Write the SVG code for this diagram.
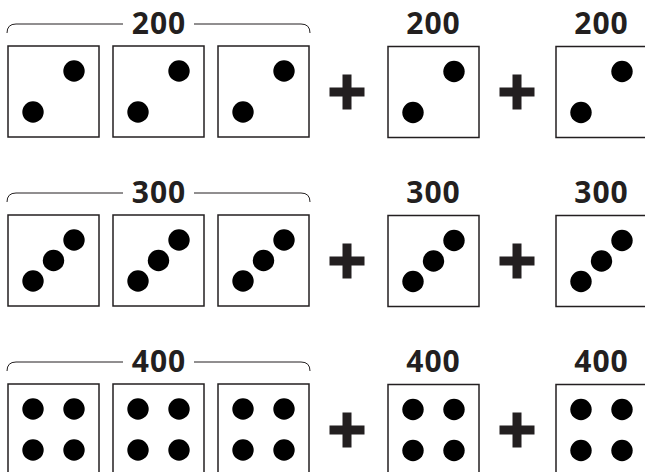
<svg xmlns="http://www.w3.org/2000/svg" xmlns:xlink="http://www.w3.org/1999/xlink" width="645" height="472" viewBox="0 0 645 472">
<style>
.box{fill:#fff;stroke:#231f20;stroke-width:1.5}
.dot{fill:#000}
.lbl{font-family:"Open Sans","Noto Sans",sans-serif;font-weight:bold;font-size:30px;fill:#231f20;text-anchor:middle;letter-spacing:1px}
.br{fill:none;stroke:#231f20;stroke-width:1}
.plus{fill:#231f20}
</style>
<defs>
<g id="d2"><rect class="box" x="0" y="0" width="91" height="91"/><circle class="dot" cx="66" cy="25" r="10.7"/><circle class="dot" cx="25" cy="66" r="10.7"/></g>
<g id="d3"><rect class="box" x="0" y="0" width="91" height="91"/><circle class="dot" cx="66" cy="25" r="10.7"/><circle class="dot" cx="45.5" cy="45.5" r="10.7"/><circle class="dot" cx="25" cy="66" r="10.7"/></g>
<g id="d4"><rect class="box" x="0" y="0" width="91" height="91"/><circle class="dot" cx="25" cy="25" r="10.7"/><circle class="dot" cx="66" cy="25" r="10.7"/><circle class="dot" cx="25" cy="66" r="10.7"/><circle class="dot" cx="66" cy="66" r="10.7"/></g>
<g id="pl"><rect x="-17.5" y="-4.5" width="35" height="9"/><rect x="-4.5" y="-17.5" width="9" height="35"/></g>
</defs>

<g id="row1">
  <g id="r1-bracket"><path class="br" d="M7,33 Q7,24 16,24 H123 M194,24 H301 Q310,24 310,33"/><text class="lbl" x="159" y="34">200</text></g>
  <g id="r1-die1"><use xlink:href="#d2" x="8" y="46"/></g>
  <g id="r1-die2"><use xlink:href="#d2" x="113" y="46"/></g>
  <g id="r1-die3"><use xlink:href="#d2" x="218" y="46"/></g>
  <g id="r1-plus1" class="plus"><use xlink:href="#pl" x="347" y="92"/></g>
  <g id="r1-die4"><text class="lbl" x="433.5" y="34">200</text><use xlink:href="#d2" x="388" y="46.5"/></g>
  <g id="r1-plus2" class="plus"><use xlink:href="#pl" x="517" y="92"/></g>
  <g id="r1-die5"><text class="lbl" x="601.5" y="34">200</text><use xlink:href="#d2" x="556" y="46.5"/></g>
</g>

<g id="row2">
  <g id="r2-bracket"><path class="br" d="M7,202 Q7,193 16,193 H123 M194,193 H301 Q310,193 310,202"/><text class="lbl" x="159" y="203">300</text></g>
  <g id="r2-die1"><use xlink:href="#d3" x="8" y="215"/></g>
  <g id="r2-die2"><use xlink:href="#d3" x="113" y="215"/></g>
  <g id="r2-die3"><use xlink:href="#d3" x="218" y="215"/></g>
  <g id="r2-plus1" class="plus"><use xlink:href="#pl" x="347" y="261"/></g>
  <g id="r2-die4"><text class="lbl" x="433.5" y="203">300</text><use xlink:href="#d3" x="388" y="215.5"/></g>
  <g id="r2-plus2" class="plus"><use xlink:href="#pl" x="517" y="261"/></g>
  <g id="r2-die5"><text class="lbl" x="601.5" y="203">300</text><use xlink:href="#d3" x="556" y="215.5"/></g>
</g>

<g id="row3">
  <g id="r3-bracket"><path class="br" d="M7,371 Q7,362 16,362 H123 M194,362 H301 Q310,362 310,371"/><text class="lbl" x="159" y="372">400</text></g>
  <g id="r3-die1"><use xlink:href="#d4" x="8" y="384"/></g>
  <g id="r3-die2"><use xlink:href="#d4" x="113" y="384"/></g>
  <g id="r3-die3"><use xlink:href="#d4" x="218" y="384"/></g>
  <g id="r3-plus1" class="plus"><use xlink:href="#pl" x="347" y="430"/></g>
  <g id="r3-die4"><text class="lbl" x="433.5" y="372">400</text><use xlink:href="#d4" x="388" y="384.5"/></g>
  <g id="r3-plus2" class="plus"><use xlink:href="#pl" x="517" y="430"/></g>
  <g id="r3-die5"><text class="lbl" x="601.5" y="372">400</text><use xlink:href="#d4" x="556" y="384.5"/></g>
</g>
</svg>
